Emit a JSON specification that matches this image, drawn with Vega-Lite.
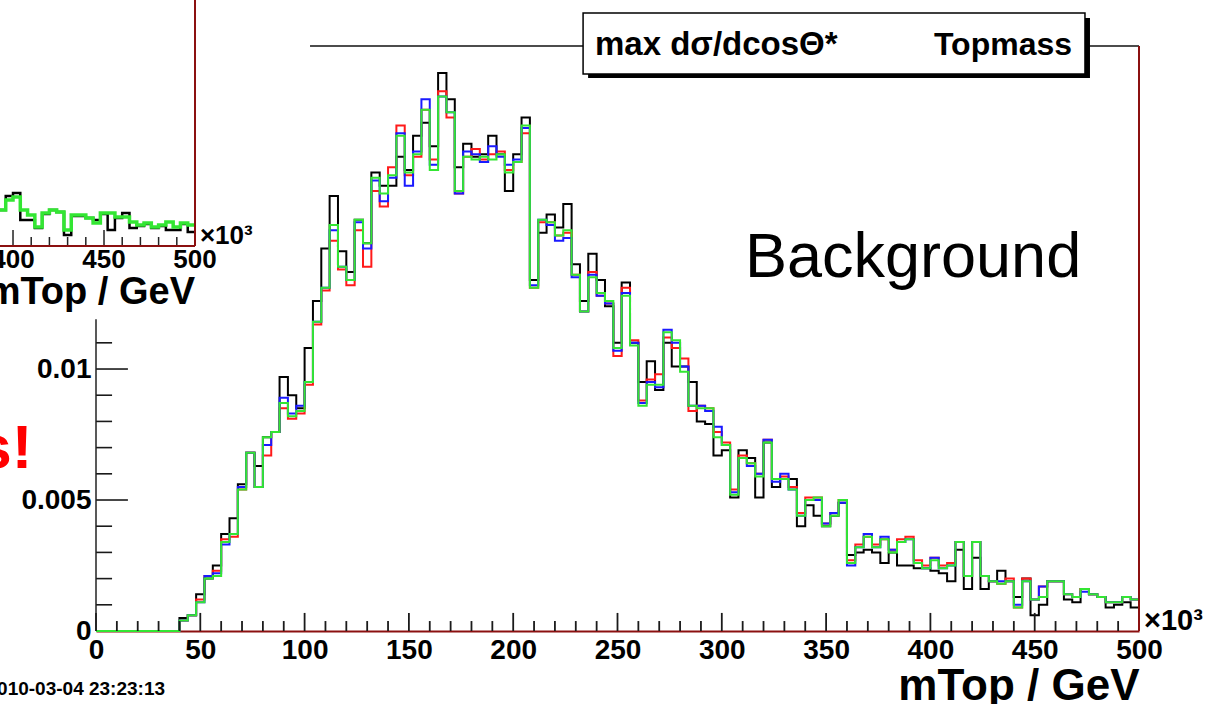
{
  "$schema": "https://vega.github.io/schema/vega-lite/v6.json",
  "width": 1043,
  "height": 585,
  "autosize": {"type": "none"},
  "padding": {"left": 96, "top": 46, "right": 68, "bottom": 73},
  "background": "#ffffff",
  "config": {
    "view": {"stroke": null},
    "font": "Liberation Sans",
    "axis": {"grid": false}
  },
  "datasets": {
    "main": [
      {"x":0,"k":0,"r":0,"b":0,"g":0},{"x":4,"k":0,"r":0,"b":0,"g":0},{"x":8,"k":0,"r":0,"b":0,"g":0},{"x":12,"k":0,"r":0,"b":0,"g":0},
      {"x":16,"k":0,"r":0,"b":0,"g":0},{"x":20,"k":0,"r":0,"b":0,"g":0},{"x":24,"k":0,"r":0,"b":0,"g":0},{"x":28,"k":0,"r":0,"b":0,"g":0},
      {"x":32,"k":0,"r":0,"b":0,"g":0},{"x":36,"k":0,"r":0,"b":0,"g":0},
      {"x":40,"k":0.0005,"r":0.0004,"b":0.0004,"g":0.0004},
      {"x":44,"k":0.0006,"r":0.0006,"b":0.0006,"g":0.0006},
      {"x":48,"k":0.0014,"r":0.0012,"b":0.0011,"g":0.0011},
      {"x":52,"k":0.0020,"r":0.0021,"b":0.0021,"g":0.0020},
      {"x":56,"k":0.0025,"r":0.0023,"b":0.0022,"g":0.0021},
      {"x":60,"k":0.0037,"r":0.0035,"b":0.0033,"g":0.0034},
      {"x":64,"k":0.0043,"r":0.0036,"b":0.0037,"g":0.0037},
      {"x":68,"k":0.0056,"r":0.0054,"b":0.0055,"g":0.0054},
      {"x":72,"k":0.0068,"r":0.0068,"b":0.0068,"g":0.0068},
      {"x":76,"k":0.0063,"r":0.0055,"b":0.0055,"g":0.0055},
      {"x":80,"k":0.0074,"r":0.0067,"b":0.0071,"g":0.0074},
      {"x":84,"k":0.0076,"r":0.0076,"b":0.0076,"g":0.0076},
      {"x":88,"k":0.0097,"r":0.0085,"b":0.0089,"g":0.0087},
      {"x":92,"k":0.0090,"r":0.0081,"b":0.0083,"g":0.0082},
      {"x":96,"k":0.0085,"r":0.0083,"b":0.0086,"g":0.0084},
      {"x":100,"k":0.0108,"r":0.0094,"b":0.0095,"g":0.0095},
      {"x":104,"k":0.0126,"r":0.0117,"b":0.0118,"g":0.0118},
      {"x":108,"k":0.0146,"r":0.0130,"b":0.0131,"g":0.0131},
      {"x":112,"k":0.0166,"r":0.0149,"b":0.0153,"g":0.0155},
      {"x":116,"k":0.0145,"r":0.0138,"b":0.0139,"g":0.0139},
      {"x":120,"k":0.0137,"r":0.0132,"b":0.0134,"g":0.0134},
      {"x":124,"k":0.0157,"r":0.0153,"b":0.0156,"g":0.0157},
      {"x":128,"k":0.0148,"r":0.0139,"b":0.0146,"g":0.0148},
      {"x":132,"k":0.0175,"r":0.0168,"b":0.0172,"g":0.0173},
      {"x":136,"k":0.0170,"r":0.0162,"b":0.0164,"g":0.0167},
      {"x":140,"k":0.0170,"r":0.0177,"b":0.0173,"g":0.0174},
      {"x":144,"k":0.0181,"r":0.0193,"b":0.0190,"g":0.0189},
      {"x":148,"k":0.0176,"r":0.0174,"b":0.0170,"g":0.0175},
      {"x":152,"k":0.0189,"r":0.0181,"b":0.0183,"g":0.0182},
      {"x":156,"k":0.0194,"r":0.0199,"b":0.0203,"g":0.0199},
      {"x":160,"k":0.0185,"r":0.0180,"b":0.0178,"g":0.0176},
      {"x":164,"k":0.0213,"r":0.0206,"b":0.0204,"g":0.0204},
      {"x":168,"k":0.0203,"r":0.0196,"b":0.0198,"g":0.0198},
      {"x":172,"k":0.0177,"r":0.0167,"b":0.0167,"g":0.0168},
      {"x":176,"k":0.0186,"r":0.0181,"b":0.0183,"g":0.0181},
      {"x":180,"k":0.0181,"r":0.0184,"b":0.0182,"g":0.0180},
      {"x":184,"k":0.0182,"r":0.0180,"b":0.0179,"g":0.0181},
      {"x":188,"k":0.0189,"r":0.0182,"b":0.0185,"g":0.0180},
      {"x":192,"k":0.0182,"r":0.0183,"b":0.0181,"g":0.0182},
      {"x":196,"k":0.0168,"r":0.0176,"b":0.0178,"g":0.0175},
      {"x":200,"k":0.0182,"r":0.0179,"b":0.0180,"g":0.0179},
      {"x":204,"k":0.0196,"r":0.0190,"b":0.0192,"g":0.0193},
      {"x":208,"k":0.0134,"r":0.0131,"b":0.0132,"g":0.0131},
      {"x":212,"k":0.0152,"r":0.0156,"b":0.0157,"g":0.0157},
      {"x":216,"k":0.0159,"r":0.0156,"b":0.0155,"g":0.0156},
      {"x":220,"k":0.0154,"r":0.0151,"b":0.0149,"g":0.0151},
      {"x":224,"k":0.0163,"r":0.0152,"b":0.0150,"g":0.0153},
      {"x":228,"k":0.0140,"r":0.0136,"b":0.0135,"g":0.0136},
      {"x":232,"k":0.0126,"r":0.0122,"b":0.0122,"g":0.0122},
      {"x":236,"k":0.0144,"r":0.0137,"b":0.0136,"g":0.0135},
      {"x":240,"k":0.0134,"r":0.0128,"b":0.0128,"g":0.0129},
      {"x":244,"k":0.0124,"r":0.0125,"b":0.0125,"g":0.0126},
      {"x":248,"k":0.0110,"r":0.0105,"b":0.0107,"g":0.0108},
      {"x":252,"k":0.0133,"r":0.0131,"b":0.0129,"g":0.0128},
      {"x":256,"k":0.0110,"r":0.0111,"b":0.0110,"g":0.0109},
      {"x":260,"k":0.0095,"r":0.0088,"b":0.0087,"g":0.0086},
      {"x":264,"k":0.0103,"r":0.0096,"b":0.0095,"g":0.0094},
      {"x":268,"k":0.0092,"r":0.0098,"b":0.0093,"g":0.0094},
      {"x":272,"k":0.0110,"r":0.0112,"b":0.0115,"g":0.0114},
      {"x":276,"k":0.0101,"r":0.0108,"b":0.0110,"g":0.0111},
      {"x":280,"k":0.0101,"r":0.0104,"b":0.0101,"g":0.0099},
      {"x":284,"k":0.0095,"r":0.0084,"b":0.0086,"g":0.0086},
      {"x":288,"k":0.0080,"r":0.0086,"b":0.0086,"g":0.0085},
      {"x":292,"k":0.0079,"r":0.0085,"b":0.0084,"g":0.0085},
      {"x":296,"k":0.0067,"r":0.0076,"b":0.0078,"g":0.0074},
      {"x":300,"k":0.0069,"r":0.0072,"b":0.0071,"g":0.0071},
      {"x":304,"k":0.0051,"r":0.0054,"b":0.0053,"g":0.0052},
      {"x":308,"k":0.0069,"r":0.0067,"b":0.0066,"g":0.0066},
      {"x":312,"k":0.0066,"r":0.0064,"b":0.0063,"g":0.0064},
      {"x":316,"k":0.0051,"r":0.0060,"b":0.0060,"g":0.0059},
      {"x":320,"k":0.0072,"r":0.0073,"b":0.0073,"g":0.0072},
      {"x":324,"k":0.0055,"r":0.0058,"b":0.0057,"g":0.0058},
      {"x":328,"k":0.0058,"r":0.0059,"b":0.0060,"g":0.0058},
      {"x":332,"k":0.0058,"r":0.0055,"b":0.0054,"g":0.0054},
      {"x":336,"k":0.0040,"r":0.0045,"b":0.0044,"g":0.0044},
      {"x":340,"k":0.0048,"r":0.0051,"b":0.0050,"g":0.0050},
      {"x":344,"k":0.0044,"r":0.0051,"b":0.0050,"g":0.0051},
      {"x":348,"k":0.0040,"r":0.0041,"b":0.0041,"g":0.0040},
      {"x":352,"k":0.0044,"r":0.0045,"b":0.0045,"g":0.0044},
      {"x":356,"k":0.0049,"r":0.0050,"b":0.0049,"g":0.0050},
      {"x":360,"k":0.0029,"r":0.0027,"b":0.0025,"g":0.0026},
      {"x":364,"k":0.0030,"r":0.0033,"b":0.0032,"g":0.0032},
      {"x":368,"k":0.0031,"r":0.0036,"b":0.0037,"g":0.0036},
      {"x":372,"k":0.0030,"r":0.0033,"b":0.0032,"g":0.0032},
      {"x":376,"k":0.0026,"r":0.0035,"b":0.0036,"g":0.0035},
      {"x":380,"k":0.0030,"r":0.0031,"b":0.0031,"g":0.0030},
      {"x":384,"k":0.0025,"r":0.0035,"b":0.0034,"g":0.0034},
      {"x":388,"k":0.0025,"r":0.0036,"b":0.0035,"g":0.0035},
      {"x":392,"k":0.0024,"r":0.0027,"b":0.0026,"g":0.0026},
      {"x":396,"k":0.0024,"r":0.0025,"b":0.0024,"g":0.0024},
      {"x":400,"k":0.0023,"r":0.0028,"b":0.0028,"g":0.0027},
      {"x":404,"k":0.0022,"r":0.0025,"b":0.0024,"g":0.0024},
      {"x":408,"k":0.0019,"r":0.0026,"b":0.0025,"g":0.0025},
      {"x":412,"k":0.0031,"r":0.0034,"b":0.0034,"g":0.0034},
      {"x":416,"k":0.0016,"r":0.0021,"b":0.0021,"g":0.0021},
      {"x":420,"k":0.0028,"r":0.0034,"b":0.0034,"g":0.0034},
      {"x":424,"k":0.0016,"r":0.0021,"b":0.0021,"g":0.0021},
      {"x":428,"k":0.0019,"r":0.0019,"b":0.0019,"g":0.0019},
      {"x":432,"k":0.0023,"r":0.0018,"b":0.0019,"g":0.0018},
      {"x":436,"k":0.0019,"r":0.0020,"b":0.0019,"g":0.0019},
      {"x":440,"k":0.0013,"r":0.0009,"b":0.0010,"g":0.0009},
      {"x":444,"k":0.0020,"r":0.0020,"b":0.0019,"g":0.0019},
      {"x":448,"k":0.0006,"r":0.0012,"b":0.0012,"g":0.0012},
      {"x":452,"k":0.0010,"r":0.0017,"b":0.0017,"g":0.0013},
      {"x":456,"k":0.0019,"r":0.0019,"b":0.0019,"g":0.0019},
      {"x":460,"k":0.0019,"r":0.0019,"b":0.0019,"g":0.0019},
      {"x":464,"k":0.0012,"r":0.0014,"b":0.0014,"g":0.0014},
      {"x":468,"k":0.0011,"r":0.0013,"b":0.0013,"g":0.0013},
      {"x":472,"k":0.0016,"r":0.0016,"b":0.0015,"g":0.0016},
      {"x":476,"k":0.0014,"r":0.0014,"b":0.0014,"g":0.0014},
      {"x":480,"k":0.0013,"r":0.0013,"b":0.0013,"g":0.0013},
      {"x":484,"k":0.0009,"r":0.0011,"b":0.0011,"g":0.0011},
      {"x":488,"k":0.0010,"r":0.0011,"b":0.0011,"g":0.0011},
      {"x":492,"k":0.0011,"r":0.0013,"b":0.0013,"g":0.0013},
      {"x":496,"k":0.0009,"r":0.0012,"b":0.0012,"g":0.0012},
      {"x":500,"k":0.0009,"r":0.0012,"b":0.0012,"g":0.0012}
    ],
    "left": [
      {"x":392,"g":0.0018,"k":0.0018},{"x":396,"g":0.0023,"k":0.0025},{"x":400,"g":0.00245,"k":0.00265},
      {"x":404,"g":0.0018,"k":0.0013},{"x":408,"g":0.00155,"k":0.0013},{"x":412,"g":0.00095,"k":0.0009},
      {"x":416,"g":0.00165,"k":0.0016},{"x":420,"g":0.0018,"k":0.0018},{"x":424,"g":0.0017,"k":0.0017},
      {"x":428,"g":0.0008,"k":0.00055},{"x":432,"g":0.00155,"k":0.0015},{"x":436,"g":0.00155,"k":0.0015},
      {"x":440,"g":0.0014,"k":0.0014},{"x":444,"g":0.00115,"k":0.0013},{"x":448,"g":0.00165,"k":0.0016},
      {"x":452,"g":0.00165,"k":0.0008},{"x":456,"g":0.00145,"k":0.0014},{"x":460,"g":0.00145,"k":0.00165},
      {"x":464,"g":0.0012,"k":0.0009},{"x":468,"g":0.00105,"k":0.001},{"x":472,"g":0.00115,"k":0.0011},
      {"x":476,"g":0.00095,"k":0.0009},{"x":480,"g":0.00105,"k":0.001},{"x":484,"g":0.0012,"k":0.0008},
      {"x":488,"g":0.00095,"k":0.0008},{"x":492,"g":0.00115,"k":0.0011},{"x":496,"g":0.00105,"k":0.0007},
      {"x":500,"g":0.00105,"k":0.0007}
    ],
    "lticks": [
      {"t":400},{"t":410},{"t":420},{"t":430},{"t":440},{"t":450},{"t":460},{"t":470},{"t":480},{"t":490},{"t":500}
    ],
    "xticks": [
      {"t":0},{"t":10},{"t":20},{"t":30},{"t":40},{"t":50},{"t":60},{"t":70},{"t":80},{"t":90},
      {"t":100},{"t":110},{"t":120},{"t":130},{"t":140},{"t":150},{"t":160},{"t":170},{"t":180},{"t":190},
      {"t":200},{"t":210},{"t":220},{"t":230},{"t":240},{"t":250},{"t":260},{"t":270},{"t":280},{"t":290},
      {"t":300},{"t":310},{"t":320},{"t":330},{"t":340},{"t":350},{"t":360},{"t":370},{"t":380},{"t":390},
      {"t":400},{"t":410},{"t":420},{"t":430},{"t":440},{"t":450},{"t":460},{"t":470},{"t":480},{"t":490}
    ],
    "ymajor": [{"t":0.005},{"t":0.01}],
    "yminor": [{"t":0.001},{"t":0.002},{"t":0.003},{"t":0.004},{"t":0.006},{"t":0.007},{"t":0.008},{"t":0.009},{"t":0.011}]
  },
  "layer": [
    {
      "resolve": {"axis": {"x": "independent", "y": "independent"}},
      "layer": [
        {
          "data": {"name": "main"},
          "mark": {"type": "line", "interpolate": "step-after", "color": "#000000", "strokeWidth": 2},
          "encoding": {
            "x": {"field": "x", "type": "quantitative", "scale": {"domain": [0, 500], "nice": false, "zero": false},
              "axis": {"values": [0,50,100,150,200,250,300,350,400,450,500], "orient": "bottom", "tickSize": -18, "tickOpacity": 0,
                "domainColor": "#8b1010", "domainWidth": 2, "labelFont": "Liberation Sans", "labelFontSize": 28, "labelFontWeight": "bold",
                "labelColor": "#000000", "labelPadding": 23, "labelOverlap": false, "labelFlush": false,
                "title": "mTop / GeV", "titleFont": "Liberation Sans", "titleFontSize": 44, "titleFontWeight": "bold", "titleColor": "#000000",
                "titleAnchor": "end", "titleAlign": "right", "titlePadding": 0}},
            "y": {"field": "k", "type": "quantitative", "scale": {"domain": [0, 0.02233], "nice": false, "zero": false},
              "axis": {"values": [0, 0.005, 0.01], "orient": "left", "format": "~g", "tickSize": -32, "tickOpacity": 0, "domain": false,
                "labelFont": "Liberation Sans", "labelFontSize": 28, "labelFontWeight": "bold", "labelColor": "#000000", "labelPadding": 37,
                "labelOverlap": false, "labelFlush": false, "title": null}}
          }
        },
        {
          "data": {"name": "main"},
          "mark": {"type": "line", "interpolate": "step-after", "color": "#ff1a1a", "strokeWidth": 2},
          "encoding": {
            "x": {"field": "x", "type": "quantitative", "scale": {"domain": [0, 500], "nice": false, "zero": false}, "axis": null},
            "y": {"field": "r", "type": "quantitative", "scale": {"domain": [0, 0.02233], "nice": false, "zero": false}, "axis": null}
          }
        },
        {
          "data": {"name": "main"},
          "mark": {"type": "line", "interpolate": "step-after", "color": "#1a1aff", "strokeWidth": 2},
          "encoding": {
            "x": {"field": "x", "type": "quantitative", "scale": {"domain": [0, 500], "nice": false, "zero": false}, "axis": null},
            "y": {"field": "b", "type": "quantitative", "scale": {"domain": [0, 0.02233], "nice": false, "zero": false}, "axis": null}
          }
        },
        {
          "data": {"name": "main"},
          "mark": {"type": "line", "interpolate": "step-after", "color": "#33e633", "strokeWidth": 2},
          "encoding": {
            "x": {"field": "x", "type": "quantitative", "scale": {"domain": [0, 500], "nice": false, "zero": false}, "axis": null},
            "y": {"field": "g", "type": "quantitative", "scale": {"domain": [0, 0.02233], "nice": false, "zero": false}, "axis": null}
          }
        },
        {
          "data": {"name": "xticks"},
          "transform": [{"filter": "datum.t % 50 == 0"}],
          "mark": {"type": "rule", "color": "#1a1a1a", "strokeWidth": 1.8},
          "encoding": {
            "x": {"field": "t", "type": "quantitative", "scale": {"domain": [0, 500], "nice": false, "zero": false}, "axis": null},
            "y": {"datum": 0, "type": "quantitative", "scale": {"domain": [0, 0.02233], "nice": false, "zero": false}, "axis": null},
            "y2": {"datum": 0.00069}
          }
        },
        {
          "data": {"name": "xticks"},
          "transform": [{"filter": "datum.t % 50 != 0"}],
          "mark": {"type": "rule", "color": "#1a1a1a", "strokeWidth": 1.8},
          "encoding": {
            "x": {"field": "t", "type": "quantitative", "scale": {"domain": [0, 500], "nice": false, "zero": false}, "axis": null},
            "y": {"datum": 0, "type": "quantitative", "scale": {"domain": [0, 0.02233], "nice": false, "zero": false}, "axis": null},
            "y2": {"datum": 0.00038}
          }
        },
        {
          "data": {"name": "ymajor"},
          "mark": {"type": "rule", "color": "#1a1a1a", "strokeWidth": 1.6},
          "encoding": {
            "y": {"field": "t", "type": "quantitative", "scale": {"domain": [0, 0.02233], "nice": false, "zero": false}, "axis": null},
            "x": {"datum": 0, "type": "quantitative", "scale": {"domain": [0, 500], "nice": false, "zero": false}, "axis": null},
            "x2": {"datum": 15.3}
          }
        },
        {
          "data": {"name": "yminor"},
          "mark": {"type": "rule", "color": "#1a1a1a", "strokeWidth": 1.6},
          "encoding": {
            "y": {"field": "t", "type": "quantitative", "scale": {"domain": [0, 0.02233], "nice": false, "zero": false}, "axis": null},
            "x": {"datum": 0, "type": "quantitative", "scale": {"domain": [0, 500], "nice": false, "zero": false}, "axis": null},
            "x2": {"datum": 7.7}
          }
        },
        {
          "data": {"values": [{}]},
          "mark": {"type": "rule", "color": "#222222", "strokeWidth": 1.5},
          "encoding": {
            "x": {"datum": 0, "type": "quantitative", "scale": {"domain": [0, 500], "nice": false, "zero": false}, "axis": null},
            "y": {"datum": 0, "type": "quantitative", "scale": {"domain": [0, 0.02233], "nice": false, "zero": false}, "axis": null},
            "y2": {"datum": 0.0119}
          }
        },
        {
          "data": {"values": [{}]},
          "mark": {"type": "rule", "color": "#111111", "strokeWidth": 1.5},
          "encoding": {
            "x": {"datum": 102.6, "type": "quantitative", "scale": {"domain": [0, 500], "nice": false, "zero": false}, "axis": null},
            "x2": {"datum": 500},
            "y": {"datum": 0.02233, "type": "quantitative", "scale": {"domain": [0, 0.02233], "nice": false, "zero": false}, "axis": null}
          }
        },
        {
          "data": {"values": [{}]},
          "mark": {"type": "rule", "color": "#8b1010", "strokeWidth": 2},
          "encoding": {
            "x": {"datum": 500, "type": "quantitative", "scale": {"domain": [0, 500], "nice": false, "zero": false}, "axis": null},
            "y": {"datum": 0, "type": "quantitative", "scale": {"domain": [0, 0.02233], "nice": false, "zero": false}, "axis": null},
            "y2": {"datum": 0.02233}
          }
        },
        {
          "data": {"values": [{}]},
          "mark": {"type": "rect", "color": "#000000"},
          "encoding": {
            "x": {"datum": 235.9, "type": "quantitative", "scale": {"domain": [0, 500], "nice": false, "zero": false}, "axis": null},
            "x2": {"datum": 476.5},
            "y": {"datum": 0.0234, "type": "quantitative", "scale": {"domain": [0, 0.02233], "nice": false, "zero": false}, "axis": null},
            "y2": {"datum": 0.02111}
          }
        },
        {
          "data": {"values": [{}]},
          "mark": {"type": "rect", "fill": "#ffffff", "stroke": "#000000", "strokeWidth": 1.5},
          "encoding": {
            "x": {"datum": 233.5, "type": "quantitative", "scale": {"domain": [0, 500], "nice": false, "zero": false}, "axis": null},
            "x2": {"datum": 474.1},
            "y": {"datum": 0.02359, "type": "quantitative", "scale": {"domain": [0, 0.02233], "nice": false, "zero": false}, "axis": null},
            "y2": {"datum": 0.02126}
          }
        },
        {
          "data": {"values": [{}]},
          "mark": {"type": "text", "font": "Liberation Sans", "fontSize": 33, "fontWeight": "bold", "color": "#000000", "align": "left", "baseline": "alphabetic"},
          "encoding": {
            "x": {"datum": 239.2, "type": "quantitative", "scale": {"domain": [0, 500], "nice": false, "zero": false}, "axis": null},
            "y": {"datum": 0.02198, "type": "quantitative", "scale": {"domain": [0, 0.02233], "nice": false, "zero": false}, "axis": null},
            "text": {"value": "max dσ/dcosΘ*"}
          }
        },
        {
          "data": {"values": [{}]},
          "mark": {"type": "text", "font": "Liberation Sans", "fontSize": 32, "fontWeight": "bold", "color": "#000000", "align": "right", "baseline": "alphabetic"},
          "encoding": {
            "x": {"datum": 467.9, "type": "quantitative", "scale": {"domain": [0, 500], "nice": false, "zero": false}, "axis": null},
            "y": {"datum": 0.02198, "type": "quantitative", "scale": {"domain": [0, 0.02233], "nice": false, "zero": false}, "axis": null},
            "text": {"value": "Topmass"}
          }
        },
        {
          "data": {"values": [{}]},
          "mark": {"type": "text", "font": "Liberation Sans", "fontSize": 63, "fontWeight": "normal", "color": "#000000", "align": "left", "baseline": "alphabetic"},
          "encoding": {
            "x": {"datum": 311.1, "type": "quantitative", "scale": {"domain": [0, 500], "nice": false, "zero": false}, "axis": null},
            "y": {"datum": 0.01351, "type": "quantitative", "scale": {"domain": [0, 0.02233], "nice": false, "zero": false}, "axis": null},
            "text": {"value": "Background"}
          }
        },
        {
          "data": {"values": [{}]},
          "mark": {"type": "text", "font": "Liberation Sans", "fontSize": 29, "fontWeight": "bold", "color": "#000000", "align": "left", "baseline": "alphabetic"},
          "encoding": {
            "x": {"datum": 502.4, "type": "quantitative", "scale": {"domain": [0, 500], "nice": false, "zero": false}, "axis": null},
            "y": {"datum": 0.00004, "type": "quantitative", "scale": {"domain": [0, 0.02233], "nice": false, "zero": false}, "axis": null},
            "text": {"value": "×10³"}
          }
        },
        {
          "data": {"values": [{}]},
          "mark": {"type": "text", "font": "Liberation Sans", "fontSize": 19, "fontWeight": "bold", "color": "#000000", "align": "right", "baseline": "alphabetic"},
          "encoding": {
            "x": {"datum": 33.1, "type": "quantitative", "scale": {"domain": [0, 500], "nice": false, "zero": false}, "axis": null},
            "y": {"datum": -0.00244, "type": "quantitative", "scale": {"domain": [0, 0.02233], "nice": false, "zero": false}, "axis": null},
            "text": {"value": "2010-03-04 23:23:13"}
          }
        },
        {
          "data": {"values": [{}]},
          "mark": {"type": "text", "font": "Liberation Sans", "fontSize": 62, "fontWeight": "bold", "color": "#ff0000", "align": "right", "baseline": "alphabetic"},
          "encoding": {
            "x": {"datum": -30.5, "type": "quantitative", "scale": {"domain": [0, 500], "nice": false, "zero": false}, "axis": null},
            "y": {"datum": 0.00622, "type": "quantitative", "scale": {"domain": [0, 0.02233], "nice": false, "zero": false}, "axis": null},
            "text": {"value": "s!"}
          }
        }
      ]
    },
    {
      "layer": [
        {
          "data": {"name": "left"},
          "mark": {"type": "line", "interpolate": "step-after", "color": "#000000", "strokeWidth": 2.5},
          "encoding": {
            "x": {"field": "x", "type": "quantitative", "scale": {"domain": [445.6, 1018.7], "nice": false, "zero": false}, "axis": null},
            "y": {"field": "k", "type": "quantitative", "scale": {"domain": [-0.01925, 0.01], "nice": false, "zero": false}, "axis": null}
          }
        },
        {
          "data": {"name": "left"},
          "mark": {"type": "line", "interpolate": "step-after", "color": "#33e633", "strokeWidth": 3.5},
          "encoding": {
            "x": {"field": "x", "type": "quantitative", "scale": {"domain": [445.6, 1018.7], "nice": false, "zero": false}, "axis": null},
            "y": {"field": "g", "type": "quantitative", "scale": {"domain": [-0.01925, 0.01], "nice": false, "zero": false}, "axis": null}
          }
        },
        {
          "data": {"name": "lticks"},
          "transform": [{"filter": "datum.t % 50 != 0"}],
          "mark": {"type": "rule", "color": "#222222", "strokeWidth": 1.5},
          "encoding": {
            "x": {"field": "t", "type": "quantitative", "scale": {"domain": [445.6, 1018.7], "nice": false, "zero": false}, "axis": null},
            "y": {"datum": 0, "type": "quantitative", "scale": {"domain": [-0.01925, 0.01], "nice": false, "zero": false}, "axis": null},
            "y2": {"datum": 0.00045}
          }
        },
        {
          "data": {"name": "lticks"},
          "transform": [{"filter": "datum.t % 50 == 0"}],
          "mark": {"type": "rule", "color": "#222222", "strokeWidth": 1.5},
          "encoding": {
            "x": {"field": "t", "type": "quantitative", "scale": {"domain": [445.6, 1018.7], "nice": false, "zero": false}, "axis": null},
            "y": {"datum": 0, "type": "quantitative", "scale": {"domain": [-0.01925, 0.01], "nice": false, "zero": false}, "axis": null},
            "y2": {"datum": 0.0008}
          }
        },
        {
          "data": {"name": "lticks"},
          "transform": [{"filter": "datum.t % 50 == 0"}],
          "mark": {"type": "text", "font": "Liberation Sans", "fontSize": 26, "fontWeight": "bold", "color": "#000000", "align": "center", "baseline": "alphabetic"},
          "encoding": {
            "x": {"field": "t", "type": "quantitative", "scale": {"domain": [445.6, 1018.7], "nice": false, "zero": false}, "axis": null},
            "y": {"datum": -0.0011, "type": "quantitative", "scale": {"domain": [-0.01925, 0.01], "nice": false, "zero": false}, "axis": null},
            "text": {"field": "t", "type": "quantitative"}
          }
        },
        {
          "data": {"values": [{}]},
          "mark": {"type": "rule", "color": "#8b1010", "strokeWidth": 2},
          "encoding": {
            "x": {"datum": 390, "type": "quantitative", "scale": {"domain": [445.6, 1018.7], "nice": false, "zero": false}, "axis": null},
            "x2": {"datum": 500},
            "y": {"datum": 0, "type": "quantitative", "scale": {"domain": [-0.01925, 0.01], "nice": false, "zero": false}, "axis": null}
          }
        },
        {
          "data": {"values": [{}]},
          "mark": {"type": "rule", "color": "#8b1010", "strokeWidth": 2},
          "encoding": {
            "x": {"datum": 500, "type": "quantitative", "scale": {"domain": [445.6, 1018.7], "nice": false, "zero": false}, "axis": null},
            "y": {"datum": 0, "type": "quantitative", "scale": {"domain": [-0.01925, 0.01], "nice": false, "zero": false}, "axis": null},
            "y2": {"datum": 0.013}
          }
        },
        {
          "data": {"values": [{}]},
          "mark": {"type": "text", "font": "Liberation Sans", "fontSize": 26, "fontWeight": "bold", "color": "#000000", "align": "left", "baseline": "alphabetic"},
          "encoding": {
            "x": {"datum": 502.7, "type": "quantitative", "scale": {"domain": [445.6, 1018.7], "nice": false, "zero": false}, "axis": null},
            "y": {"datum": 0.0001, "type": "quantitative", "scale": {"domain": [-0.01925, 0.01], "nice": false, "zero": false}, "axis": null},
            "text": {"value": "×10³"}
          }
        },
        {
          "data": {"values": [{}]},
          "mark": {"type": "text", "font": "Liberation Sans", "fontSize": 38, "fontWeight": "bold", "color": "#000000", "align": "right", "baseline": "alphabetic"},
          "encoding": {
            "x": {"datum": 500, "type": "quantitative", "scale": {"domain": [445.6, 1018.7], "nice": false, "zero": false}, "axis": null},
            "y": {"datum": -0.0029, "type": "quantitative", "scale": {"domain": [-0.01925, 0.01], "nice": false, "zero": false}, "axis": null},
            "text": {"value": "mTop / GeV"}
          }
        }
      ]
    }
  ],
  "resolve": {"scale": {"x": "independent", "y": "independent"}}
}
